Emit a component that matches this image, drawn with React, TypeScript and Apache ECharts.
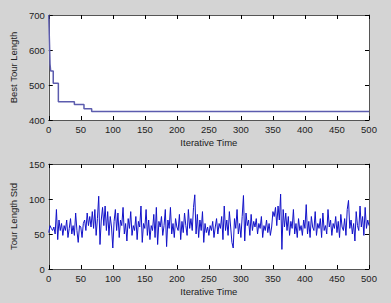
import React, { useEffect, useRef } from "react";
import * as echarts from "echarts";

const bestIter = [0, 1, 2, 3, 7, 15, 40, 55, 67, 500];
const bestLen = [700, 630, 560, 540, 505, 452, 444, 432, 424, 424];

const stdIter: number[] = [];
for (let i = 0; i <= 500; i += 2) stdIter.push(i);
const stdVals = [
  52, 62, 58, 55, 60, 50, 85, 42, 70, 55, 65, 48, 62, 55, 70, 45, 58, 72, 50, 62, 48, 80, 55, 38, 62,
  60, 45, 65, 70, 55, 80, 62, 75, 60, 82, 58, 85, 48, 72, 104, 35, 70, 88, 62, 90, 55, 82, 48, 75, 60,
  30, 68, 85, 55, 80, 45, 70, 62, 88, 50, 65, 40, 72, 58, 82, 48, 62, 55, 75, 42, 68, 60, 90, 38, 65,
  58, 85, 48, 70, 42, 62, 55, 78, 45, 88, 35, 68, 60, 75, 48, 62, 85, 32, 70, 58, 88, 50, 65, 45, 72,
  60, 55, 78, 42, 68, 52, 80, 62, 48, 85, 58, 72, 55, 88, 106, 50, 78, 45, 70, 55, 82, 38, 65, 52, 60,
  48, 62, 55, 68, 45, 60, 72, 50, 65, 58, 75, 42, 90, 55, 70, 48, 82, 60, 38, 30, 72, 58, 85, 50, 65,
  45, 75, 105, 40, 80, 62, 70, 48, 78, 55, 68, 60, 72, 50, 65, 58, 75, 45, 62, 55, 70, 52, 65, 48, 60,
  82, 75, 88, 62, 90, 70, 107, 28, 85, 60, 80, 55, 75, 48, 68, 58, 85, 50, 65, 45, 72, 55, 62, 48, 70,
  58, 92, 50, 68, 45, 75, 60, 55, 82, 48, 65, 58, 72, 45, 80, 55, 62, 50, 85, 60, 70, 48, 65, 58, 75,
  52, 68, 45, 78, 60, 55, 72, 48, 85, 98, 58, 70, 50, 65, 40, 82, 62, 55, 90, 60, 75, 48, 88, 58, 70, 62,
];

const xTicks = [0, 500, 50];

export default function App() {
  const ref = useRef<HTMLDivElement>(null);
  useEffect(() => {
    document.body.style.margin = "0";
    const chart = echarts.init(ref.current!, undefined, { renderer: "svg" });
    const font = "Liberation Sans, Arial, sans-serif";
    const txt = "#222";
    const lineCol = "#555";
    const fs = 9.5;
    const mkX = (gi: number) => [
      {
        type: "value",
        gridIndex: gi,
        min: xTicks[0],
        max: xTicks[1],
        interval: xTicks[2],
        name: "Iterative Time",
        nameLocation: "middle",
        nameGap: 17,
        nameTextStyle: { fontFamily: font, fontSize: fs, color: txt },
        axisLine: { show: true, onZero: false, lineStyle: { color: lineCol, width: 1 } },
        axisTick: { inside: true, length: 4, lineStyle: { color: "#000" } },
        axisLabel: { fontFamily: font, fontSize: fs, color: txt, margin: 4 },
        splitLine: { show: false },
      },
      {
        type: "value",
        gridIndex: gi,
        position: "top",
        min: xTicks[0],
        max: xTicks[1],
        interval: xTicks[2],
        axisLine: { show: true, onZero: false, lineStyle: { color: lineCol, width: 1 } },
        axisTick: { inside: true, length: 4, lineStyle: { color: "#000" } },
        axisLabel: { show: false },
        splitLine: { show: false },
      },
    ];
    const mkY = (gi: number, min: number, max: number, interval: number, name: string) => [
      {
        type: "value",
        gridIndex: gi,
        min,
        max,
        interval,
        name,
        nameLocation: "middle",
        nameGap: 27,
        nameTextStyle: { fontFamily: font, fontSize: fs, color: txt },
        axisLine: { show: true, onZero: false, lineStyle: { color: lineCol, width: 1 } },
        axisTick: { inside: true, length: 4, lineStyle: { color: "#000" } },
        axisLabel: { fontFamily: font, fontSize: fs, color: txt, margin: 4 },
        splitLine: { show: false },
      },
      {
        type: "value",
        gridIndex: gi,
        position: "right",
        min,
        max,
        interval,
        axisLine: { show: true, onZero: false, lineStyle: { color: lineCol, width: 1 } },
        axisTick: { inside: true, length: 4, lineStyle: { color: "#000" } },
        axisLabel: { show: false },
        splitLine: { show: false },
      },
    ];
    chart.setOption({
      animation: false,
      backgroundColor: "#d4d4d4",
      grid: [
        { left: 45, top: 15, width: 324, height: 105, show: true, backgroundColor: "#fff", borderWidth: 0 },
        { left: 45, top: 164, width: 324, height: 105, show: true, backgroundColor: "#fff", borderWidth: 0 },
      ],
      xAxis: [...mkX(0), ...mkX(1)],
      yAxis: [...mkY(0, 400, 700, 100, "Best Tour Length"), ...mkY(1, 0, 150, 50, "Tour Length Std")],
      series: [
        {
          type: "line",
          xAxisIndex: 0,
          yAxisIndex: 0,
          step: "end",
          showSymbol: false,
          data: bestIter.map((x, i) => [x, bestLen[i]]),
          lineStyle: { color: "#5c5cae", width: 1.5 },
        },
        {
          type: "line",
          xAxisIndex: 2,
          yAxisIndex: 2,
          showSymbol: false,
          data: stdIter.map((x, i) => [x, stdVals[i]]),
          lineStyle: { color: "#1212c8", width: 1 },
        },
      ],
    });
    return () => chart.dispose();
  }, []);
  return <div ref={ref} style={{ width: 391, height: 303 }} />;
}
